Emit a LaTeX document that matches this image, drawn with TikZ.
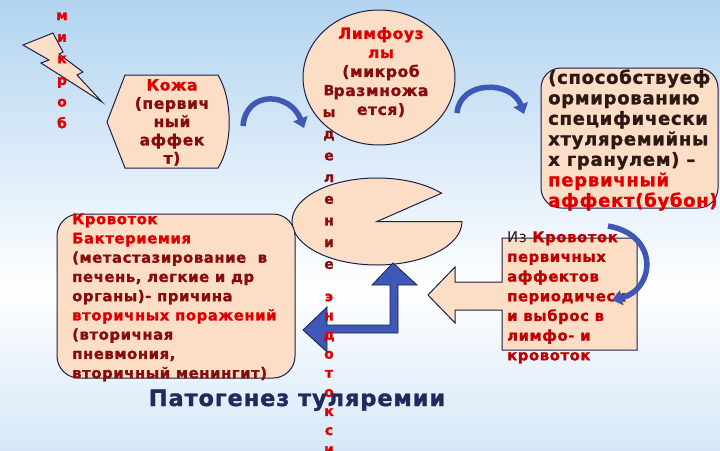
\documentclass[tikz,border=0pt]{standalone}
\usepackage{fontspec}
\setmainfont{DejaVu Sans}[LetterSpace=4, BoldFeatures={FakeBold=1.3}]
\usetikzlibrary{arrows.meta, shapes.geometric}

\definecolor{peach}{RGB}{252,221,198}
\definecolor{edge}{RGB}{28,32,72}
\definecolor{arrowblue}{RGB}{62,88,182}
\definecolor{hotred}{RGB}{222,0,0}
\definecolor{darkred}{RGB}{135,12,12}
\definecolor{titlenavy}{RGB}{32,42,92}
\definecolor{inkbrown}{RGB}{45,25,20}
\definecolor{sky}{RGB}{178,212,240}

\tikzset{
  blob/.style={draw=edge, fill=peach, line width=1pt},
  curvearrow/.style={draw=arrowblue, line width=5.5pt, -{Triangle[length=10pt,width=15pt]}},
  txt/.style={inner sep=0pt, text=darkred},
}

\begin{document}
\begin{tikzpicture}[x=1pt, y=-1pt]
    \useasboundingbox (0,0) rectangle (720,450);
    \clip (0,0) rectangle (720,450);

    % Hintergrund
    \shade[top color=sky, bottom color=white] (0,0) rectangle (720,290);
    \shade[top color=white, bottom color=sky!55] (0,290) rectangle (720,450);

    % Blitz (Erreger)
    \draw[blob] (23,45) -- (53,33) -- (63,52) -- (59,54) -- (83,72) -- (77,75)
        -- (102,102) -- (41,63) -- (49,60) -- cycle;

    % Haut
    \draw[blob] (107,122) -- (125,75) -- (218,75) .. controls (233,100) and (233,145) .. (218,168)
        -- (125,168) -- cycle;

    % Lymphknoten
    \node[blob, ellipse, inner sep=0pt, minimum width=152pt, minimum height=135pt] (lymph) at (379,77.5) {};

    % Pacman-Form
    \draw[blob] (377,221.5) -- (462,221.5)
        arc[start angle=0, end angle=319.4, x radius=85, y radius=43.5] -- cycle;

    % Kästen
    \node[blob, rounded corners=22pt, minimum width=238pt, minimum height=164pt] (blood) at (176,296) {};
    \node[blob, rounded corners=20pt, minimum width=177pt, minimum height=140pt] (bubo) at (629.5,138) {};

    % Kasten mit Pfeil nach links
    \draw[blob] (502,238) -- (637,238) -- (637,350) -- (502,350) -- (502,310) -- (455,310)
        -- (455,323) -- (428,295) -- (455,267) -- (455,282) -- (502,282) -- cycle;

    % Winkelpfeil
    \draw[fill=arrowblue, draw=edge, line width=0.8pt] (393,263) -- (417,285) -- (398,285) -- (398,333)
        -- (327,333) -- (327,352) -- (303,330) -- (327,307) -- (327,325) -- (390,325)
        -- (390,285) -- (372,285) -- cycle;

    % Texte
    \node[txt, anchor=north, align=center, text=hotred, font=\bfseries\fontsize{14}{21.6}\selectfont]
        (mikrob) at (62,12.3) {м\\и\\к\\р\\о\\б};
    \node[txt, anchor=north, align=center, font=\bfseries\fontsize{15.5}{18.3}\selectfont]
        (skintxt) at (172,79) {\textcolor{hotred}{Кожа}\\(первич\\ный\\аффек\\т)};
    \node[txt, anchor=north, align=center, font=\bfseries\fontsize{15.5}{19}\selectfont]
        (lymphtxt) at (381,27) {\textcolor{hotred}{Лимфоуз}\\\textcolor{hotred}{лы}\\(микроб\\размножа\\ется)};
    \node[txt, anchor=north, align=center, font=\bfseries\fontsize{14}{21.7}\selectfont]
        (vyd) at (329,84.8) {В\\ы\\д\\е\\л\\е\\н\\и\\е};
    \node[txt, anchor=north, align=center, text=hotred, font=\bfseries\fontsize{14}{19.1}\selectfont]
        (endo) at (329,293.3) {э\\н\\д\\о\\т\\о\\к\\с\\и};
    \node[txt, anchor=north west, align=left, font=\bfseries\fontsize{14.8}{19.25}\selectfont]
        (bloodtxt) at (72,213.2) {\textcolor{hotred}{Кровоток}\\
        \textcolor{hotred}{Бактериемия}\\
        (метастазирование\ \ в\\
        печень, легкие и др\\
        органы)- причина\\
        \textcolor{hotred}{вторичных поражений}\\
        (вторичная\\
        пневмония,\\
        вторичный менингит)};
    \node[txt, anchor=north west, align=left, text=inkbrown, font=\bfseries\fontsize{18}{20.5}\selectfont]
        (bubotxt) at (548,69.3) {(способствуеф\\
        ормированию\\
        специфически\\
        хтуляремийны\\
        х гранулем) –\\
        \textcolor{hotred}{первичный}\\
        \textcolor{hotred}{аффект(бубон)}};
    \node[txt, anchor=north west, align=left, text=hotred!85!black, font=\bfseries\fontsize{14.8}{19.7}\selectfont]
        (iztxt) at (507,231.2) {{\mdseries\color{inkbrown}Из} Кровоток\\
        первичных\\
        аффектов\\
        периодическ\\
        и выброс в\\
        лимфо- и\\
        кровоток};
    \node[txt, anchor=base, text=titlenavy, font=\bfseries\fontsize{22.5}{26}\selectfont]
        (title) at (297,406) {Патогенез туляремии};

    % gebogene Pfeile
    \coordinate (s1) at (243,126);
    \coordinate (e1) at (304,128);
    \coordinate (s2) at (457,113);
    \coordinate (e2) at (524,114);
    \coordinate (s3) at (608,226);
    \coordinate (e3) at (612,300);
    \draw[curvearrow] (s1) .. controls (246,90) and (290,92) .. (e1);
    \draw[curvearrow] (s2) .. controls (460,80) and (512,80) .. (e2);
    \draw[curvearrow] (s3) .. controls (660,235) and (655,290) .. (e3);
\end{tikzpicture}
\end{document}
